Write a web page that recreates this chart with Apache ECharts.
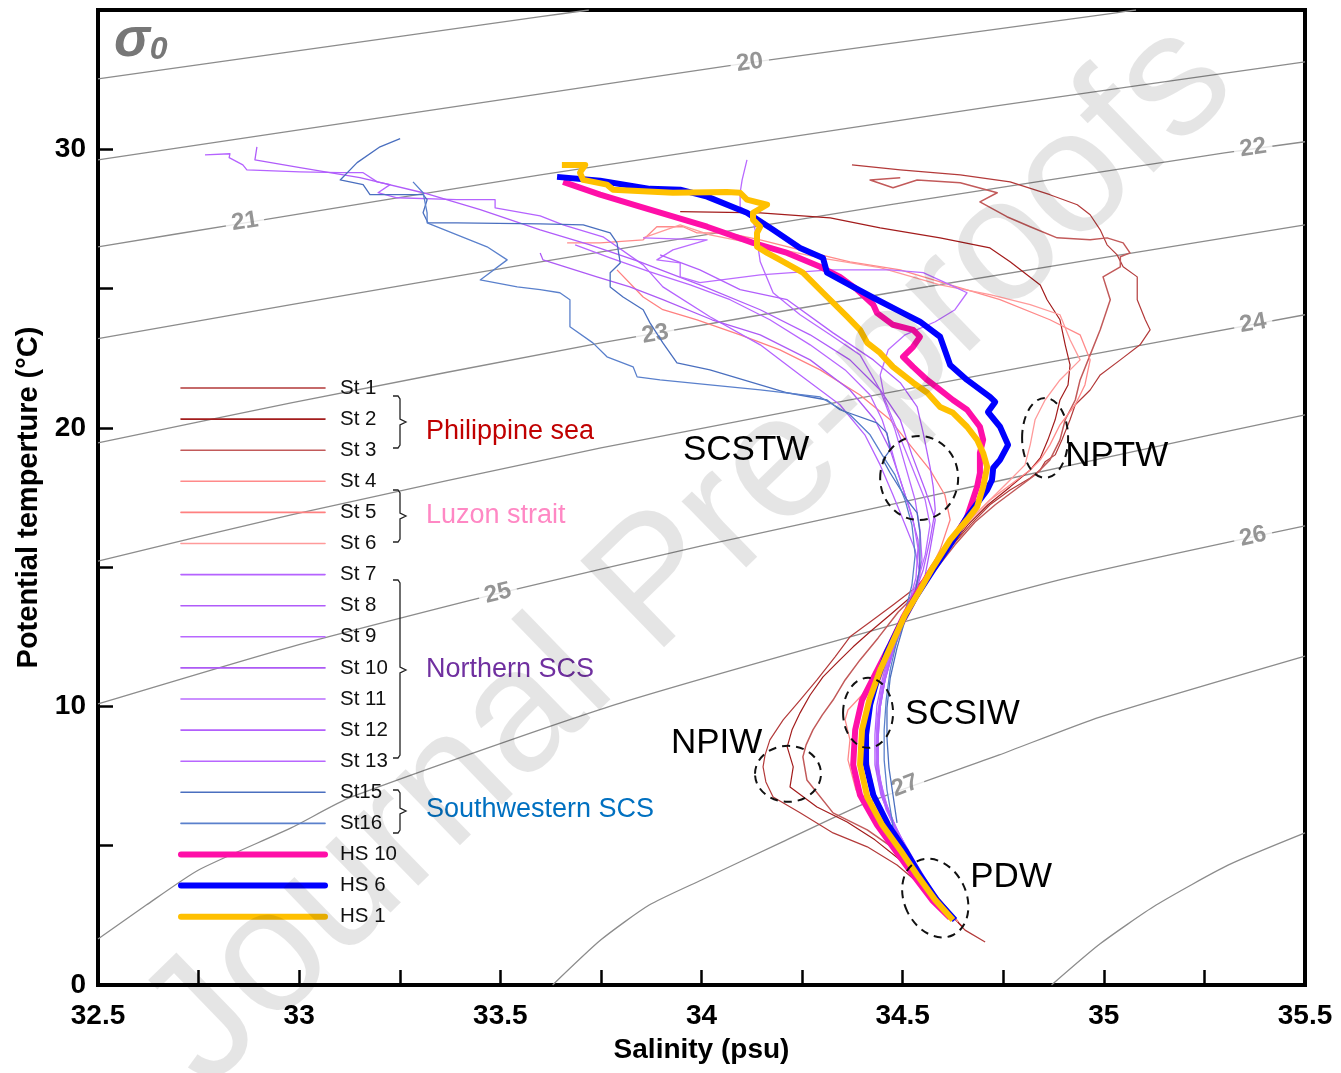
<!DOCTYPE html>
<html>
<head>
<meta charset="utf-8">
<script src="https://cdn.jsdelivr.net/npm/echarts/dist/echarts.min.js"></script>
<style>
html, body { margin: 0; padding: 0; background: #fff; }
#chart { width: 1341px; height: 1073px; }
</style>
</head>
<body>
<div id="chart"></div>
<script>
// sigma-0 isopycnals, [salinity, temperature]
var sigmaLevels = [19, 20, 21, 22, 23, 24, 25, 26, 27, 28];
var sigmaPaths = [
  [[32.5,32.53],[33.6,34.76],[33.72,35.0]],
  [[32.5,29.62],[33.6,31.99],[34.12,33.11],[34.72,34.29],[35.03,34.9],[35.08,35.0]],
  [[32.5,26.5],[32.865,27.36],[33.6,29.08],[34.72,31.53],[35.5,33.14]],
  [[32.5,23.2],[32.98,24.42],[33.6,25.96],[34.47,28.01],[35.3,29.87],[35.5,30.27]],
  [[32.5,19.46],[32.98,20.9],[33.75,23.05],[34.47,24.85],[35.5,27.29]],
  [[32.5,15.22],[32.98,16.88],[33.75,19.28],[34.87,22.37],[35.5,24.06]],
  [[32.5,10.09],[32.98,12.14],[33.49,14.04],[34.0,15.76],[34.49,17.31],[34.99,18.89],[35.5,20.47]],
  [[32.5,1.65],[32.62,2.87],[32.75,4.13],[32.98,5.64],[33.13,6.75],[33.8,10.13],[34.87,14.47],[35.5,16.48]],
  [[33.63,0],[33.75,1.62],[33.87,2.87],[34.0,3.77],[34.2,5.13],[34.41,6.54],[34.74,8.26],[34.99,9.62],[35.5,11.81]],
  [[34.87,0],[34.99,1.47],[35.13,2.87],[35.31,4.31],[35.5,5.46]]
];
// contour label anchors: salinity, temperature, text, angle
var sigmaLabels = [
  [34.12,33.11,'20',8], [32.865,27.4,'21',9], [35.371,30.05,'22',9], [33.885,23.36,'23',10],
  [35.371,23.75,'24',10], [33.494,14.06,'25',14], [35.371,16.1,'26',13], [34.506,7.15,'27',21]
];

// Philippine sea
var st1 = [[34.374,29.44],[34.494,29.26],[34.643,29.08],[34.767,28.83],[34.866,28.37],[34.934,28.01],[34.966,27.65],[34.991,27.11],[35.008,26.57],[35.033,26.21],[35.048,25.78],[35.083,25.42],[35.083,24.60],[35.103,23.88],[35.115,23.52],[35.090,22.98],[35.041,22.44],[34.991,21.90],[34.966,21.36],[34.929,20.83],[34.916,20.29],[34.896,19.57],[34.879,19.03],[34.854,18.78],[34.842,18.49],[34.817,18.20],[34.767,17.77],[34.717,17.24],[34.668,16.52],[34.618,15.69],[34.573,14.90],[34.531,14.25],[34.476,13.64],[34.419,13.03],[34.369,12.50],[34.332,11.78],[34.287,10.95],[34.245,10.23],[34.203,9.52],[34.170,8.80],[34.158,8.26],[34.153,7.83],[34.160,7.29],[34.178,6.75],[34.245,6.18],[34.327,5.46],[34.412,4.96],[34.486,4.31],[34.551,3.52],[34.605,2.76],[34.655,1.97],[34.705,1.54]];
var st2 = [[33.947,27.76],[34.146,27.72],[34.320,27.54],[34.444,27.18],[34.593,26.82],[34.717,26.46],[34.767,25.96],[34.842,25.13],[34.859,24.60],[34.891,23.88],[34.904,22.98],[34.916,22.26],[34.911,21.54],[34.891,21.00],[34.879,20.29],[34.861,19.57],[34.842,18.92],[34.817,18.49],[34.767,17.88],[34.712,17.24],[34.662,16.52],[34.613,15.62],[34.568,14.72],[34.518,13.90],[34.469,13.29],[34.419,12.68],[34.377,12.14],[34.339,11.60],[34.302,11.06],[34.270,10.41],[34.245,9.77],[34.225,9.16],[34.213,8.55],[34.228,7.83],[34.220,7.11],[34.287,6.39],[34.362,5.85],[34.431,5.21],[34.494,4.49],[34.543,3.77],[34.588,3.05],[34.625,2.44],[34.650,2.08]];
var st3 = [[34.494,28.98],[34.419,28.90],[34.476,28.62],[34.536,28.90],[34.643,28.80],[34.735,28.44],[34.692,28.11],[34.759,27.58],[34.817,27.22],[34.884,26.82],[34.966,26.75],[35.008,26.82],[35.048,26.64],[35.065,26.28],[35.041,26.14],[35.041,25.78],[34.998,25.42],[35.016,24.60],[34.991,23.52],[34.966,22.62],[34.941,21.72],[34.929,21.00],[34.904,20.29],[34.891,19.57],[34.866,18.85],[34.829,18.31],[34.779,17.77],[34.730,17.24],[34.680,16.62],[34.630,15.80],[34.581,14.90],[34.531,14.00],[34.489,13.39],[34.439,12.46],[34.394,11.67],[34.357,10.95],[34.327,10.23],[34.300,9.69],[34.277,9.16],[34.260,8.62],[34.252,8.19],[34.262,7.36],[34.327,6.18],[34.412,5.57],[34.476,4.92],[34.523,4.20],[34.568,3.48],[34.610,2.76],[34.638,2.26]];
// Luzon strait
var st4 = [[33.666,26.64],[33.748,26.64],[33.855,26.75],[33.889,27.22],[33.954,27.22],[33.989,27.00],[34.063,27.00],[34.146,26.75],[34.245,26.39],[34.369,25.96],[34.494,25.67],[34.618,25.13],[34.742,24.60],[34.866,23.88],[34.941,23.34],[34.966,22.44],[34.953,21.54],[34.929,20.83],[34.891,20.11],[34.866,19.39],[34.842,18.85],[34.817,18.49],[34.767,17.95],[34.717,17.41],[34.668,16.70],[34.630,15.98],[34.593,15.26],[34.556,14.54],[34.526,13.82],[34.494,12.93],[34.464,12.03],[34.431,11.13],[34.399,10.41],[34.364,9.87],[34.357,9.52],[34.369,8.80],[34.364,8.08],[34.384,7.00],[34.419,6.10],[34.469,5.21],[34.518,4.31],[34.568,3.41],[34.613,2.62],[34.638,2.26]];
var st5 = [[33.790,25.67],[33.855,24.70],[33.904,24.24],[33.989,23.88],[34.096,23.34],[34.195,22.80],[34.295,22.08],[34.394,21.18],[34.469,20.29],[34.518,19.39],[34.568,18.49],[34.605,17.59],[34.618,16.70],[34.593,15.62],[34.556,14.54],[34.526,13.64],[34.494,12.75],[34.464,11.85],[34.439,10.95],[34.419,10.05],[34.409,8.98],[34.409,7.90],[34.424,6.82],[34.459,5.75],[34.501,4.85],[34.541,3.95],[34.583,3.05],[34.623,2.41]];
var st6 = [[33.855,26.82],[33.947,27.29],[34.021,26.93],[34.146,26.57],[34.295,26.10],[34.444,25.75],[34.593,25.13],[34.717,24.78],[34.817,24.42],[34.891,24.06],[34.916,23.16],[34.941,22.44],[34.891,21.72],[34.854,21.00],[34.829,20.29],[34.817,19.39],[34.804,18.67],[34.767,18.13],[34.705,17.24],[34.643,16.34],[34.605,15.44],[34.568,14.72],[34.538,13.90],[34.506,13.03],[34.476,12.10],[34.449,11.13],[34.424,10.23],[34.414,9.16],[34.414,8.08],[34.429,6.93],[34.464,5.85],[34.504,4.92],[34.543,4.02],[34.586,3.12],[34.625,2.41]];
// Northern SCS
var st7 = [[32.766,29.80],[32.828,29.84],[32.826,29.70],[32.860,29.44],[32.870,29.26],[33.002,29.19],[33.102,29.16],[33.159,29.16],[33.194,28.83],[33.226,28.73],[33.196,28.44],[33.243,28.26],[33.392,28.19],[33.487,28.19],[33.487,27.90],[33.599,27.61],[33.656,27.29],[33.755,26.86],[33.855,25.85],[33.904,25.06],[34.021,23.99],[34.146,22.98],[34.245,21.90],[34.344,20.83],[34.406,19.75],[34.444,18.67],[34.476,17.59],[34.506,16.52],[34.531,15.62],[34.543,14.72],[34.523,13.82],[34.494,12.93],[34.469,12.03],[34.449,10.95],[34.436,10.05],[34.431,8.98],[34.431,7.90],[34.446,6.82],[34.476,5.75],[34.511,4.85],[34.548,3.95],[34.588,3.05],[34.618,2.51]];
var st8 = [[32.895,30.09],[32.890,29.62],[33.002,29.34],[33.151,28.98],[33.308,28.44],[33.450,27.83],[33.599,27.11],[33.723,26.57],[33.847,25.96],[33.996,25.13],[34.146,24.24],[34.270,23.34],[34.369,22.44],[34.444,21.36],[34.494,20.29],[34.523,19.03],[34.556,17.77],[34.581,16.70],[34.568,15.62],[34.556,14.72],[34.531,13.82],[34.501,12.93],[34.476,11.96],[34.456,10.95],[34.444,9.95],[34.439,8.87],[34.439,7.79],[34.454,6.71],[34.481,5.71],[34.514,4.78],[34.551,3.88],[34.591,3.02],[34.618,2.48]];
var st9 = [[34.113,29.62],[34.101,28.90],[34.096,28.44],[34.096,27.94],[34.126,27.65],[34.138,26.75],[34.146,25.96],[34.178,24.85],[34.245,24.06],[34.320,23.34],[34.394,22.62],[34.444,21.36],[34.481,19.93],[34.506,18.67],[34.531,17.41],[34.543,16.34],[34.548,15.26],[34.531,14.18],[34.506,13.29],[34.481,12.21],[34.459,11.13],[34.444,10.05],[34.436,8.98],[34.436,7.90],[34.449,6.82],[34.479,5.75],[34.511,4.85],[34.546,3.95],[34.586,3.05],[34.618,2.51]];
var st10 = [[33.599,26.28],[33.606,26.03],[33.740,25.42],[33.822,25.06],[33.904,24.60],[34.026,23.88],[34.146,23.34],[34.270,22.44],[34.369,21.36],[34.431,20.29],[34.469,19.21],[34.494,18.13],[34.518,17.06],[34.538,15.98],[34.543,14.90],[34.523,13.82],[34.499,12.93],[34.474,11.96],[34.454,10.95],[34.441,9.95],[34.436,8.87],[34.434,7.79],[34.449,6.75],[34.479,5.71],[34.511,4.81],[34.546,3.91],[34.586,3.05],[34.618,2.51]];
var st11 = [[33.855,26.82],[34.014,26.75],[33.929,26.39],[33.889,26.03],[33.947,25.92],[33.947,25.42],[33.996,25.21],[34.146,25.49],[34.320,25.67],[34.469,25.67],[34.551,25.57],[34.618,25.13],[34.660,24.85],[34.630,24.24],[34.581,23.81],[34.506,23.34],[34.464,22.80],[34.444,21.90],[34.456,21.00],[34.481,20.11],[34.506,19.21],[34.531,18.31],[34.556,17.41],[34.568,16.52],[34.556,15.44],[34.538,14.54],[34.514,13.64],[34.489,12.68],[34.464,11.67],[34.446,10.59],[34.436,9.52],[34.434,8.44],[34.439,7.36],[34.459,6.28],[34.491,5.35],[34.526,4.49],[34.566,3.55],[34.603,2.76],[34.623,2.41]];
var st12 = [[33.897,26.21],[33.996,25.67],[34.096,24.96],[34.213,24.60],[34.327,23.41],[34.427,22.44],[34.494,21.62],[34.536,20.75],[34.551,19.82],[34.568,18.60],[34.576,17.88],[34.581,17.06],[34.568,15.98],[34.551,14.90],[34.526,13.90],[34.501,12.93],[34.476,11.96],[34.456,10.95],[34.444,9.95],[34.439,8.87],[34.439,7.79],[34.451,6.75],[34.481,5.71],[34.514,4.81],[34.548,3.91],[34.588,3.05],[34.618,2.51]];
var st13 = [[33.686,26.57],[33.773,26.10],[33.872,25.60],[33.972,25.13],[34.071,24.60],[34.170,23.88],[34.270,22.98],[34.357,22.08],[34.419,21.18],[34.449,20.29],[34.469,19.39],[34.486,18.49],[34.506,17.59],[34.526,16.70],[34.538,15.69],[34.533,14.61],[34.514,13.64],[34.489,12.68],[34.466,11.67],[34.449,10.59],[34.439,9.52],[34.436,8.44],[34.444,7.36],[34.464,6.28],[34.494,5.35],[34.528,4.49],[34.568,3.55],[34.605,2.76],[34.623,2.41]];
// Southwestern SCS
var st15 = [[33.251,30.38],[33.201,30.09],[33.144,29.52],[33.102,28.90],[33.159,28.73],[33.176,28.37],[33.308,28.37],[33.318,28.19],[33.308,27.72],[33.320,27.36],[33.392,27.36],[33.599,27.32],[33.706,27.29],[33.773,27.00],[33.790,26.64],[33.798,25.92],[33.773,25.57],[33.773,25.06],[33.805,24.70],[33.855,24.24],[33.872,23.77],[33.904,23.05],[33.939,22.33],[34.021,22.08],[34.213,21.26],[34.312,21.00],[34.344,20.65],[34.436,20.18],[34.461,19.82],[34.469,19.21],[34.451,18.85],[34.469,18.38],[34.511,17.41],[34.536,16.95],[34.543,16.23],[34.543,15.01],[34.531,14.08],[34.506,13.11],[34.486,12.10],[34.469,11.02],[34.461,9.95],[34.461,8.87],[34.466,7.79],[34.476,6.82],[34.486,5.82]];
var st16 = [[33.283,28.83],[33.308,28.44],[33.318,27.72],[33.318,27.36],[33.467,26.50],[33.517,26.03],[33.450,25.31],[33.542,25.06],[33.599,24.96],[33.648,24.85],[33.673,24.60],[33.673,23.63],[33.730,23.05],[33.765,22.55],[33.830,22.19],[33.840,21.83],[33.897,21.72],[34.021,21.54],[34.146,21.36],[34.295,21.11],[34.369,20.47],[34.419,19.75],[34.449,19.03],[34.481,18.31],[34.506,17.41],[34.523,16.52],[34.531,15.44],[34.523,14.36],[34.506,13.39],[34.486,12.39],[34.469,11.31],[34.459,10.23],[34.454,9.16],[34.454,8.08],[34.461,7.00],[34.474,5.92],[34.476,5.64]];
// HS stations
var hs10 = [[33.656,28.83],[33.748,28.37],[33.847,27.94],[34.014,27.22],[34.128,26.64],[34.213,26.28],[34.295,25.78],[34.344,25.42],[34.387,24.96],[34.427,24.42],[34.436,24.13],[34.476,23.70],[34.526,23.52],[34.543,23.27],[34.526,22.91],[34.501,22.55],[34.526,22.19],[34.561,21.72],[34.586,21.44],[34.625,21.00],[34.660,20.65],[34.692,20.04],[34.700,19.57],[34.692,19.10],[34.692,18.38],[34.685,17.88],[34.660,16.80],[34.635,16.23],[34.576,15.01],[34.536,14.08],[34.501,13.18],[34.469,12.21],[34.431,11.13],[34.399,10.23],[34.382,9.16],[34.377,7.90],[34.394,6.82],[34.436,5.75],[34.481,4.85],[34.526,3.95],[34.573,3.05],[34.618,2.41]];
var hs6 = [[33.641,29.01],[33.748,28.87],[33.872,28.58],[33.947,28.55],[34.014,28.30],[34.113,27.72],[34.178,27.11],[34.245,26.46],[34.302,26.10],[34.312,25.57],[34.377,25.06],[34.427,24.67],[34.494,24.17],[34.543,23.81],[34.593,23.27],[34.618,22.26],[34.660,21.72],[34.717,21.11],[34.730,20.93],[34.712,20.57],[34.742,20.04],[34.762,19.39],[34.742,18.85],[34.725,18.56],[34.722,18.13],[34.710,17.77],[34.660,16.80],[34.618,15.80],[34.576,14.90],[34.531,13.90],[34.494,12.93],[34.461,11.96],[34.436,10.95],[34.419,10.05],[34.409,8.98],[34.409,7.90],[34.427,6.82],[34.464,5.75],[34.506,4.85],[34.543,3.95],[34.585,3.05],[34.630,2.33]];
var hs1 = [[33.653,29.44],[33.711,29.44],[33.698,29.16],[33.706,28.90],[33.765,28.73],[33.780,28.55],[33.929,28.44],[34.063,28.47],[34.096,28.44],[34.113,28.19],[34.163,28.01],[34.128,27.72],[34.128,27.47],[34.146,27.22],[34.138,27.00],[34.138,26.50],[34.163,26.28],[34.195,26.03],[34.252,25.57],[34.302,24.85],[34.362,23.99],[34.394,23.52],[34.412,23.05],[34.444,22.69],[34.476,22.19],[34.526,21.62],[34.561,21.26],[34.593,20.75],[34.625,20.54],[34.660,20.04],[34.685,19.57],[34.700,19.10],[34.710,18.60],[34.700,17.88],[34.685,17.16],[34.660,16.70],[34.618,15.98],[34.576,15.01],[34.543,14.18],[34.506,13.29],[34.474,12.28],[34.444,11.31],[34.417,10.23],[34.399,9.16],[34.394,7.90],[34.412,6.75],[34.449,5.75],[34.494,4.85],[34.536,3.95],[34.581,3.05],[34.625,2.33]];

var stationNames = ['St 1','St 2','St 3','St 4','St 5','St 6','St 7','St 8','St 9','St 10','St 11','St 12','St 13','St15','St16','HS 10','HS 6','HS 1'];
var stationData = [st1, st2, st3, st4, st5, st6, st7, st8, st9, st10, st11, st12, st13, st15, st16, hs10, hs6, hs1];
var stationColors = ['#b33a3a','#a31c1c','#c25a5a','#ff8a8a','#ff8080','#ff9a9a',
  '#b563ff','#b05cfa','#b868ff','#ad5af5','#bb6cff','#b25ffc','#b866ff',
  '#4a6fbf','#5a80cc','#ff0fa8','#0000ff','#ffc000'];
var stationWidths = [1.2,1.2,1.5,1.3,1.3,1.3,1.3,1.3,1.3,1.3,1.3,1.3,1.3,1.3,1.3,6,6,6];

// water-mass notes
var massNames = ['SCSTW','NPTW','SCSIW','NPIW','PDW'];
var massTextAt = [[33.954,19.21],[34.904,18.99],[34.506,9.73],[33.924,8.69],[34.668,3.88]];
var massRingAt = [[34.541,18.20],[34.854,19.64],[34.414,9.77],[34.215,7.58],[34.581,3.12]];

var regionNames = ['Philippine sea','Luzon strait','Northern SCS','Southwestern SCS'];
var regionColors = ['#c00000','#ff88c4','#7030a0','#0070c0'];

var txtFont = '"Liberation Sans",Arial,sans-serif';

var chart = echarts.init(document.getElementById('chart'));

var series = [];
sigmaPaths.forEach(function (p, i) {
  series.push({
    name: 'sigma' + sigmaLevels[i], type: 'line', data: p, smooth: 0.2,
    showSymbol: false, symbol: 'none', silent: true, z: 1,
    lineStyle: { color: '#8c8c8c', width: 1.3 }
  });
});
series.push({
  name: 'sigmaLabels', type: 'scatter', symbolSize: 0, silent: true, z: 2,
  data: sigmaLabels.map(function (l) {
    return { value: [l[0], l[1]], label: { rotate: l[3], formatter: l[2] } };
  }),
  label: {
    show: true, position: 'inside', color: '#7a7a7a', fontWeight: 'bold',
    fontSize: 24, fontFamily: txtFont, backgroundColor: '#fff', padding: [0, 6]
  }
});
stationData.forEach(function (d, i) {
  series.push({
    name: stationNames[i], type: 'line', data: d, showSymbol: false, symbol: 'none',
    silent: true, z: i >= 15 ? 4 : 3,
    lineStyle: { color: stationColors[i], width: stationWidths[i], join: 'round' }
  });
});

chart.setOption({
  animation: false,
  backgroundColor: '#fff',
  grid: { left: 98, right: 36, top: 10, bottom: 88, show: true, borderColor: '#000', borderWidth: 4, backgroundColor: 'transparent' },
  xAxis: {
    type: 'value', min: 32.5, max: 35.5, interval: 0.25,
    name: 'Salinity (psu)', nameLocation: 'middle', nameGap: 51,
    nameTextStyle: { fontSize: 28, fontWeight: 'bold', fontFamily: txtFont, color: '#000' },
    axisLine: { show: true, lineStyle: { color: '#000', width: 4 } },
    axisTick: { show: true, inside: true, length: 15, lineStyle: { color: '#000', width: 2.5 } },
    axisLabel: {
      margin: 17, fontSize: 28, fontWeight: 'bold', fontFamily: txtFont, color: '#000',
      formatter: function (v) { return Math.abs(v * 2 - Math.round(v * 2)) < 1e-6 ? String(+v.toFixed(1)) : ''; }
    },
    splitLine: { show: false }
  },
  yAxis: {
    type: 'value', min: 0, max: 35, interval: 5,
    name: 'Potential temperture (°C)', nameLocation: 'middle', nameGap: 54,
    nameTextStyle: { fontSize: 29, fontWeight: 'bold', fontFamily: txtFont, color: '#000' },
    axisLine: { show: true, lineStyle: { color: '#000', width: 4 } },
    axisTick: { show: true, inside: true, length: 15, lineStyle: { color: '#000', width: 2.5 } },
    axisLabel: {
      margin: 12, fontSize: 28, fontWeight: 'bold', fontFamily: txtFont, color: '#000',
      formatter: function (v) { return v % 10 === 0 ? String(v) : ''; }
    },
    splitLine: { show: false }
  },
  series: series
});

// annotations, legend key and watermark
var g = [];
g.push({
  type: 'text', x: 114, y: 14, silent: true,
  style: {
    text: '{a|σ}{b|0}', fill: '#777',
    rich: {
      a: { fontSize: 54, fontWeight: 'bold', fontStyle: 'italic', fontFamily: txtFont, fill: '#777', color: '#777' },
      b: { fontSize: 32, fontWeight: 'bold', fontStyle: 'italic', fontFamily: txtFont, fill: '#777', color: '#777', padding: [18, 0, 0, 0] }
    }
  }
});

massNames.forEach(function (n, i) {
  var p = chart.convertToPixel({ gridIndex: 0 }, massTextAt[i]);
  g.push({ type: 'text', x: p[0], y: p[1], silent: true, z: 50,
    style: { text: n, font: '35px ' + txtFont, fill: '#000', align: 'left', verticalAlign: 'middle' } });
});
var ringSize = [[39, 42, 0], [23, 40, 0], [25, 35, 0], [33, 28, 0], [31, 41, 0.45]];
massRingAt.forEach(function (c, i) {
  var p = chart.convertToPixel({ gridIndex: 0 }, c);
  g.push({ type: 'ellipse', x: p[0], y: p[1], rotation: ringSize[i][2], silent: true, z: 50,
    shape: { cx: 0, cy: 0, rx: ringSize[i][0], ry: ringSize[i][1] },
    style: { fill: 'none', stroke: '#111', lineWidth: 2, lineDash: [8, 6] } });
});

// legend key
var key0 = 388, keyStep = 31.1;
stationNames.forEach(function (n, i) {
  var y = key0 + i * keyStep;
  g.push({ type: 'line', silent: true, z: 60,
    shape: { x1: 181, y1: y, x2: 325, y2: y },
    style: { stroke: stationColors[i], lineWidth: i >= 15 ? 6 : 1.6, lineCap: 'round' } });
  g.push({ type: 'text', x: 340, y: y, silent: true, z: 60,
    style: { text: n, font: '20.5px ' + txtFont, fill: '#111', align: 'left', verticalAlign: 'middle' } });
});
var braces = [[396, 448, 422], [490, 542, 516], [580, 758, 670], [790, 833, 811]];
var regionTextY = [432, 516, 670, 810];
braces.forEach(function (b, i) {
  g.push({ type: 'polyline', silent: true, z: 60,
    shape: { points: [[393, b[0]], [398, b[0]], [400, b[0] + 3], [400, b[2] - 3], [406, b[2]], [400, b[2] + 3], [400, b[1] - 3], [398, b[1]], [393, b[1]]] },
    style: { fill: 'none', stroke: '#222', lineWidth: 1.3 } });
  g.push({ type: 'text', x: 426, y: regionTextY[i], silent: true, z: 60,
    style: { text: regionNames[i], font: '27px ' + txtFont, fill: regionColors[i], align: 'left', verticalAlign: 'middle' } });
});

g.push({ type: 'text', x: 690, y: 555, rotation: 0.77, silent: true, z: 100,
  style: { text: 'Journal Pre-proofs', font: '175px ' + txtFont, fill: 'rgba(0,0,0,0.1)', align: 'center', verticalAlign: 'middle' } });

chart.setOption({ graphic: g });
</script>
</body>
</html>
